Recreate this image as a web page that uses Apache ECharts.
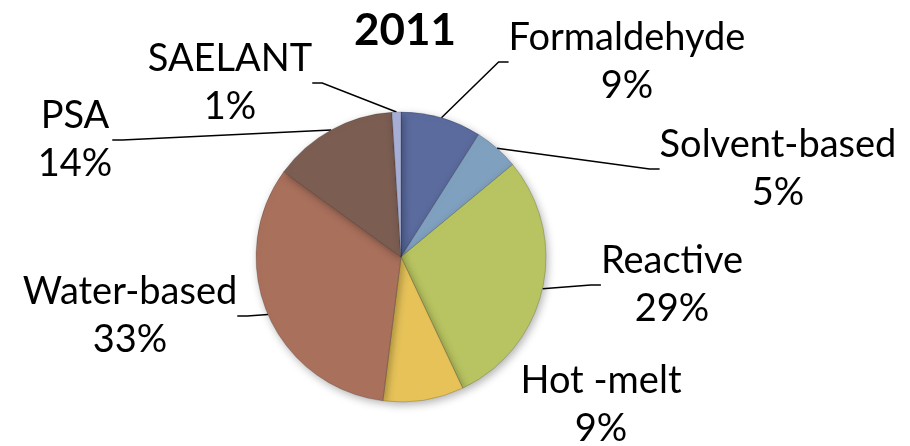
<!DOCTYPE html>
<html>
<head>
<meta charset="utf-8">
<script src="https://cdn.jsdelivr.net/npm/echarts@6/dist/echarts.min.js"></script>
<style>html,body{margin:0;padding:0;background:#fff}#c{width:910px;height:446px}</style>
</head>
<body>
<div id="c"></div>
<script>
var titleText = '2011';
var categories = ['Formaldehyde', 'Solvent-based', 'Reactive', 'Hot -melt', 'Water-based', 'PSA', 'SAELANT'];
var values = [9, 5, 29, 9, 33, 14, 1];
var colors = ['#5b6b9e', '#80a0c0', '#b8c461', '#e6c259', '#a9705c', '#7b5d52', '#a7afd6'];
var labelPos = [[627, 62], [778, 169], [672, 285], [601, 405], [130, 316], [75, 140], [230, 83]];

var chart = echarts.init(document.getElementById('c'));
var data = categories.map(function (n, i) {
  var item = { name: n, value: values[i], itemStyle: { color: colors[i] } };
  if (n === 'Hot -melt') item.labelLine = { show: false };
  return item;
});
chart.setOption({
  animation: false,
  title: {
    text: titleText, left: 349, top: 4,
    textStyle: { fontFamily: 'Lato', fontWeight: 'bold', fontSize: 44, color: '#000' }
  },
  series: [{
    type: 'pie',
    center: [401, 257],
    radius: [0, 145],
    startAngle: 90,
    clockwise: true,
    data: data,
    itemStyle: {
      borderColor: 'rgba(0,0,0,0.18)', borderWidth: 1,
      shadowBlur: 8, shadowColor: 'rgba(0,0,0,0.3)', shadowOffsetX: 2, shadowOffsetY: 3
    },
    label: {
      show: true,
      formatter: '{b}\n{c}%',
      fontFamily: 'Lato', fontSize: 38, lineHeight: 48, color: '#000',
      align: 'center'
    },
    labelLine: { show: true, length: 15, length2: 10, lineStyle: { color: '#000', width: 1.5 } },
    labelLayout: function (p) {
      var pos = labelPos[p.dataIndex];
      return { x: pos[0], y: pos[1], align: 'center', verticalAlign: 'middle' };
    },
    emphasis: { disabled: true }
  }]
});
</script>
</body>
</html>
